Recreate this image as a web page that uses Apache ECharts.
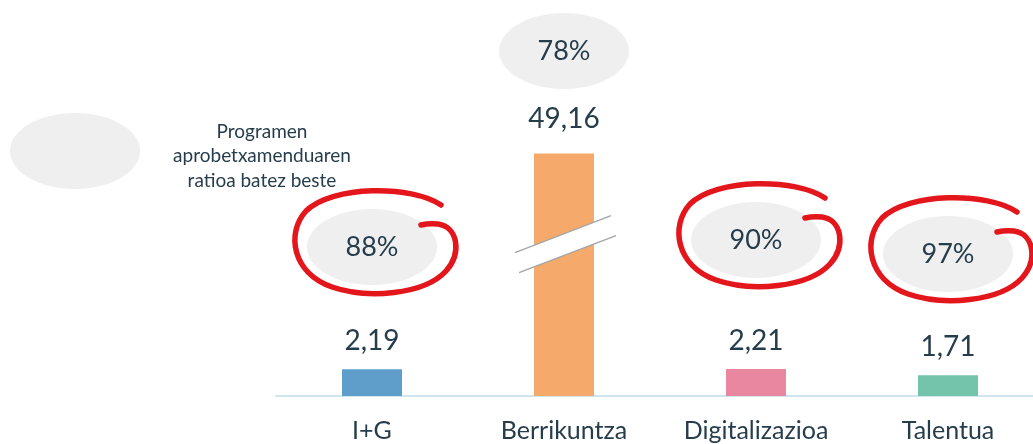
<!DOCTYPE html>
<html><head><meta charset="utf-8">
<script src="https://cdn.jsdelivr.net/npm/echarts@6/dist/echarts.min.js"></script>
<style>html,body{margin:0;padding:0;background:#fff}#c{width:1033px;height:444px}</style>
</head><body><div id="c"></div>
<script>
// ---- data ----
const categories = ['I+G', 'Berrikuntza', 'Digitalizazioa', 'Talentua'];
const values = [2.19, 49.16, 2.21, 1.71];
const ratioPct = [88, 78, 90, 97];
const circled = [true, false, true, true];
const noteText = 'Programen\naprobetxamenduaren\nratioa batez beste';
const axisBreak = { start: 12.5, end: 41.76 };

// ---- styles / layout ----
const barColors = ['#5f9dcb', '#f5a96a', '#e8879f', '#74c3ab'];
const FONT = 'Lato, "Open Sans", sans-serif';
const TXT = '#263d4c';
const BUBBLE = '#efefef';
const RED = '#e3161c';
const bubbleY = [247, 51, 240, 254];

function fmt(v) { return v.toFixed(2).replace('.', ','); }

function loopPath(cx, cy) {
  const p = [
    ['M', 69, -42],
    ['C', 40, -62, -40, -62, -66, -36],
    ['C', -86, -14, -80, 26, -40, 40],
    ['C', -5, 52, 52, 48, 74, 24],
    ['C', 90, 6, 86, -20, 66, -23],
    ['C', 58, -24, 53, -23, 49, -22]
  ];
  return p.map(seg => {
    const cmd = seg[0];
    const nums = seg.slice(1).map((n, i) => (i % 2 === 0 ? cx + n : cy + n).toFixed(1));
    return cmd + nums.join(' ');
  }).join(' ');
}

const chart = echarts.init(document.getElementById('c'), null, { renderer: 'canvas' });

chart.setOption({
  animation: false,
  backgroundColor: '#ffffff',
  grid: { left: 276, width: 768, top: 70, bottom: 48, outerBoundsMode: 'none', containLabel: false },
  xAxis: {
    type: 'category',
    data: categories,
    axisLine: { lineStyle: { color: '#cfe5ed', width: 2 } },
    axisTick: { show: false },
    axisLabel: { color: TXT, fontSize: 25, fontFamily: FONT, margin: 22 }
  },
  yAxis: {
    type: 'value',
    min: 0,
    max: 56,
    axisLine: { show: false },
    axisTick: { show: false },
    axisLabel: { show: false },
    splitLine: { show: false },
    breaks: [{ start: axisBreak.start, end: axisBreak.end, gap: 0 }],
    breakArea: { show: false }
  },
  graphic: [
    { type: 'ellipse', shape: { cx: 75, cy: 151, rx: 65, ry: 38 }, style: { fill: BUBBLE } },
    { type: 'text', style: { text: noteText, x: 262, y: 156, align: 'center', verticalAlign: 'middle',
      font: '19px ' + FONT, fill: TXT, lineHeight: 24.5 } }
  ],
  series: [
    {
      type: 'bar',
      barWidth: 60,
      data: values.map((v, i) => ({
        value: v,
        itemStyle: { color: barColors[i] },
        label: { distance: i === 1 ? 20 : 14 }
      })),
      label: {
        show: true, position: 'top', color: TXT, fontSize: 28, fontFamily: FONT,
        formatter: p => fmt(p.value)
      },
      z: 2
    },
    {
      type: 'custom',
      z: 5,
      clip: false,
      silent: true,
      data: categories.map((c, i) => [i, 0]),
      encode: { x: 0, y: 1 },
      renderItem: function (params, api) {
        const i = api.value(0);
        const x = api.coord([i, 0])[0];
        const cy = bubbleY[i];
        const children = [
          { type: 'ellipse', shape: { cx: x, cy: cy, rx: 65, ry: 38 }, style: { fill: BUBBLE } },
          { type: 'text', style: { text: ratioPct[i] + '%', x: x, y: cy, align: 'center', verticalAlign: 'middle',
            font: '27px ' + FONT, fill: TXT } }
        ];
        if (circled[i]) {
          children.push({ type: 'path', shape: { pathData: loopPath(x, cy) },
            style: { stroke: RED, lineWidth: 5.5, fill: null, lineCap: 'round', lineJoin: 'round' } });
        }
        if (i === 1) {
          const by = api.coord([i, axisBreak.start])[1];
          const bx = x + 1;
          children.push({ type: 'polygon', shape: { points: [[bx - 50, by + 9], [bx + 46, by - 28], [bx + 51, by - 8], [bx - 46, by + 29]] },
            style: { fill: '#ffffff' } });
          children.push({ type: 'line', shape: { x1: bx - 50, y1: by + 9, x2: bx + 46, y2: by - 28 },
            style: { stroke: '#a6a6a6', lineWidth: 1.5 } });
          children.push({ type: 'line', shape: { x1: bx - 46, y1: by + 29, x2: bx + 51, y2: by - 8 },
            style: { stroke: '#a6a6a6', lineWidth: 1.5 } });
        }
        return { type: 'group', children: children };
      }
    }
  ]
});
</script>
</body></html>
